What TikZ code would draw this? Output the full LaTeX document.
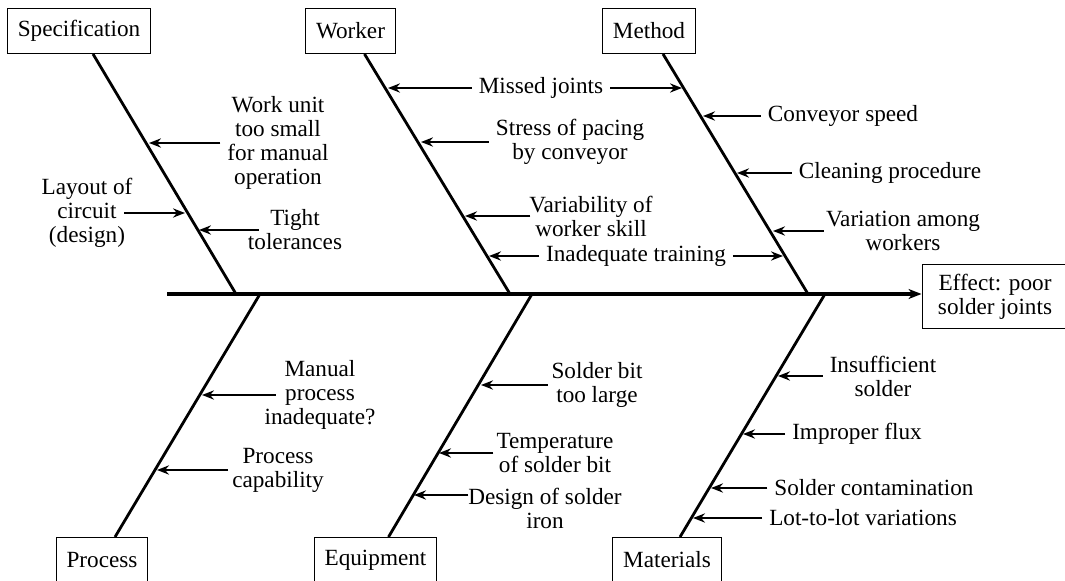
\documentclass[tikz,border=0pt]{standalone}
\usepackage{fontspec}
\setmainfont{Liberation Serif}
\usetikzlibrary{arrows.meta, positioning}

\begin{document}
\begin{tikzpicture}[
        x=0.5pt, y=-0.5pt,
        font=\fontsize{11.6}{12}\selectfont,
        category/.style={rectangle, draw, line width=0.5pt, inner xsep=5.25pt, minimum height=22.5pt, anchor=north},
        effect/.style={rectangle, draw, line width=0.5pt, align=center, minimum width=73pt, minimum height=32pt},
        cause/.style={align=center},
        bone/.style={line width=1.4pt},
        spine/.style={-{Stealth[length=6.5pt, width=5pt, inset=2pt]}, line width=1.6pt},
        arrow/.style={-{Stealth[length=6pt, width=4.6pt, inset=2pt]}, line width=1.1pt}
    ]

    \useasboundingbox (0,0) rectangle (1065,581);

    % Effect and main spine
    \node[effect] (effect) at (995,297) {Effect: poor \\ solder joints};
    \coordinate (tail) at (167,294);
    \draw[spine] (tail) -- (tail -| effect.west);

    % Categories above the spine
    \node[category] (spec) at (79,8) {Specification};
    \node[category] (worker) at (350.5,8) {Worker};
    \node[category] (method) at (649,8) {Method};

    % Categories below the spine
    \node[category] (process) at (102,537) {Process};
    \node[category] (equip) at (375.5,537) {Equipment};
    \node[category] (mater) at (667,537) {Materials};

    % Joints on the spine
    \coordinate (jspec) at (236,294);
    \coordinate (jworker) at (510,294);
    \coordinate (jmethod) at (808,294);
    \coordinate (jprocess) at (260,294);
    \coordinate (jequip) at (532,294);
    \coordinate (jmater) at (825,294);

    % Bones
    \draw[bone] ([xshift=7pt]spec.south) -- (jspec);
    \draw[bone] ([xshift=7pt]worker.south) -- (jworker);
    \draw[bone] ([xshift=7pt]method.south) -- (jmethod);
    \draw[bone] ([xshift=6.5pt]process.north) -- (jprocess);
    \draw[bone] ([xshift=6.5pt]equip.north) -- (jequip);
    \draw[bone] ([xshift=6.5pt]mater.north) -- (jmater);

    % Specification causes
    \node[cause] (workunit) at (278,143) {Work unit \\ too small \\ for manual \\ operation};
    \node[cause] (layout) at (87,213) {Layout of \\ circuit \\ (design)};
    \node[cause] (tight) at (295,230) {Tight \\ tolerances};
    \coordinate (s1) at (149,143);
    \coordinate (s2) at (185,213);
    \coordinate (s3) at (199,230);
    \draw[arrow] (workunit.west) -- (s1);
    \draw[arrow] ([xshift=-7.5pt]layout.east) -- (s2);
    \draw[arrow] ([xshift=9pt]tight.west) -- (s3);

    % Worker causes
    \node[cause] (missed) at (541,88) {Missed joints};
    \node[cause] (stress) at (570,142) {Stress of pacing \\ by conveyor};
    \node[cause] (skill) at (591,216) {Variability of \\ worker skill};
    \node[cause] (training) at (636,256) {Inadequate training};
    \coordinate (w1) at (388,88);
    \coordinate (w2) at (421,142);
    \coordinate (w3) at (465,216);
    \coordinate (w4) at (489,256);
    \draw[arrow] (missed.west) -- (w1);
    \draw[arrow] (stress.west) -- (w2);
    \draw[arrow] ([xshift=4pt]skill.west) -- (w3);
    \draw[arrow] (training.west) -- (w4);

    % Method causes
    \node[cause] (speed) at (843,116) {Conveyor speed};
    \node[cause] (cleaning) at (890,173) {Cleaning procedure};
    \node[cause] (variation) at (903,231) {Variation among \\ workers};
    \coordinate (m0) at (682,88);
    \coordinate (m1) at (703,116);
    \coordinate (m2) at (737,173);
    \coordinate (m3) at (773,231);
    \coordinate (m4) at (783,256);
    \draw[arrow] (missed.east) -- (m0);
    \draw[arrow] (speed.west) -- (m1);
    \draw[arrow] (cleaning.west) -- (m2);
    \draw[arrow] ([xshift=2.5pt]variation.west) -- (m3);
    \draw[arrow] (training.east) -- (m4);

    % Process causes
    \node[cause] (manual) at (320,395) {Manual \\ process \\ inadequate?};
    \node[cause] (capab) at (278,470) {Process \\ capability};
    \coordinate (p1) at (202,395);
    \coordinate (p2) at (157,470);
    \draw[arrow] ([xshift=9pt]manual.west) -- (p1);
    \draw[arrow] ([xshift=1.5pt]capab.west) -- (p2);

    % Equipment causes
    \node[cause] (bitsize) at (597,385) {Solder bit \\ too large};
    \node[cause] (temp) at (555,453) {Temperature \\ of solder bit};
    \node[cause] (iron) at (545,508) {Design of solder \\ iron};
    \coordinate (e1) at (481,385);
    \coordinate (e2) at (439,453);
    \coordinate (e3) at (414,495);
    \draw[arrow] ([xshift=1.5pt]bitsize.west) -- (e1);
    \draw[arrow] ([xshift=2pt]temp.west) -- (e2);
    \draw[arrow] ([xshift=3.5pt, yshift=6.5pt]iron.west) -- (e3);

    % Materials causes
    \node[cause] (insuff) at (883,376) {Insufficient \\ solder};
    \node[cause] (flux) at (857,434) {Improper flux};
    \node[cause] (contam) at (874,488) {Solder contamination};
    \node[cause] (lot) at (863,518) {Lot-to-lot variations};
    \coordinate (a1) at (778,376);
    \coordinate (a2) at (743,434);
    \coordinate (a3) at (711,488);
    \coordinate (a4) at (693,518);
    \draw[arrow] (insuff.west) -- (a1);
    \draw[arrow] (flux.west) -- (a2);
    \draw[arrow] (contam.west) -- (a3);
    \draw[arrow] (lot.west) -- (a4);

\end{tikzpicture}
\end{document}
